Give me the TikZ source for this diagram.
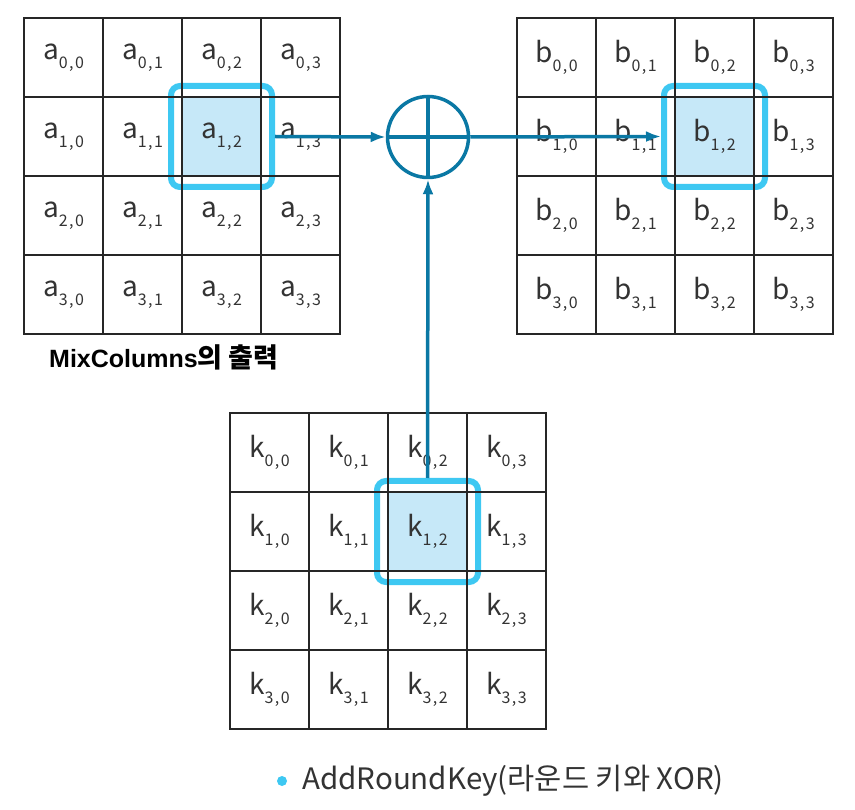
\documentclass[tikz,border=0pt]{standalone}
\usepackage{fontspec}
\setmainfont{Noto Sans CJK KR}
\newfontfamily\korfont{Noto Sans CJK KR}
\newfontfamily\arialfont{Liberation Sans}
\usetikzlibrary{arrows.meta}
\definecolor{xorblue}{HTML}{0A78A4}
\definecolor{hlcyan}{HTML}{3EC8F2}
\definecolor{hlfill}{HTML}{C6E8F8}
\pgfdeclarelayer{bg}
\pgfsetlayers{bg,main}
\newcommand{\elem}[3]{#1\raisebox{-9pt}{\fontsize{16}{16}\selectfont#2\kern1.5pt,\kern1.5pt#3}}

\begin{document}
\begin{tikzpicture}[x=1pt,y=-1pt,
	cell/.style={draw=black!85, line width=1.8pt, minimum size=79pt, inner sep=0pt,
		font=\fontsize{28}{28}\selectfont, text=black!80},
	hlbox/.style={draw=hlcyan, line width=6pt, rounded corners=9pt, minimum size=101pt},
	flow/.style={draw=xorblue, line width=3.5pt, -{Latex[length=15pt,width=11pt]}}]

	\useasboundingbox (0,0) rectangle (855,810);

	% state a, result b, round key k
	\foreach \r in {0,...,3}{
		\foreach \c in {0,...,3}{
			\node[cell] (a\r\c) at (63.5+79*\c, 57.5+79*\r) {\elem{a}{\r}{\c}};
			\node[cell] (b\r\c) at (556.5+79*\c, 57.5+79*\r) {\elem{b}{\r}{\c}};
			\node[cell] (k\r\c) at (269.5+79*\c, 452.5+79*\r) {\elem{k}{\r}{\c}};
		}
	}

	\begin{pgfonlayer}{bg}
		\foreach \g in {a,b,k}{
			\fill[hlfill] (\g12.north west) rectangle (\g12.south east);
			\node[hlbox] (h\g) at (\g12) {};
		}
	\end{pgfonlayer}

	% xor
	\node[circle, draw=xorblue, line width=3.5pt, minimum size=81pt, inner sep=0pt] (xor) at (428,137) {};
	\draw[xorblue, line width=3.5pt] (xor.north) -- (xor.south) (xor.west) -- (xor.east);

	\draw[flow] (ha.east) -- (xor.west);
	\draw[flow] (xor.east) -- (hb.west);
	\draw[flow] (hk.north) -- (xor.south);

	\node[anchor=west, inner sep=0pt, font=\arialfont\bfseries\fontsize{25}{25}\selectfont] (mixlabel) at (49,357)
		{MixColumns{\korfont\bfseries\fontsize{27}{27}\selectfont 의 출력}};

	\node[circle, fill=hlcyan, minimum size=10pt, inner sep=0pt] (dot) at (282,781) {};
	\node[anchor=west, inner sep=0pt, font=\fontsize{29.5}{29.5}\selectfont, text=black!80] (keylabel) at (302,781)
		{AddRoundKey(라운드 키와 XOR)};
\end{tikzpicture}
\end{document}
